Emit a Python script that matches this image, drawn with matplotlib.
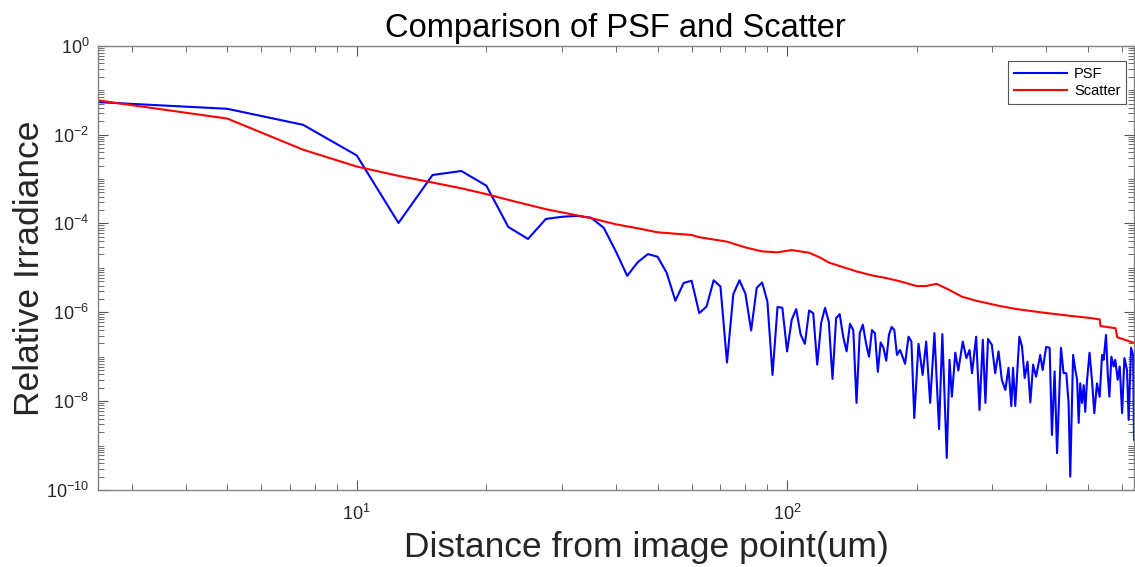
#!/usr/bin/env python3
"""Log-log comparison of PSF and scatter irradiance profiles."""
import matplotlib
matplotlib.use("Agg")
import matplotlib.pyplot as plt
from matplotlib import ticker
import numpy as np

# distance from image point (um) and log10 of relative irradiance
psf_dist = [2.5, 5, 7.5, 10, 12.5, 15, 17.5, 20, 22.5, 25, 27.5, 30, 32.5, 35, 37.5, 40,
            42.5, 45, 47.5, 50, 52.5, 55, 57.5, 60, 62.5, 65, 67.5, 70, 72.5, 75, 77.5, 80,
            82.5, 85, 87.5, 90, 92.5, 95, 97.5, 100, 102.5, 105, 107.5, 110, 112.5, 115,
            117.5, 120, 122.5, 125, 127.5, 130, 132.5, 135, 137.5, 140, 142.5, 145, 147.5,
            150, 152.5, 155, 157.5, 160, 162.5, 165, 167.5, 170, 172.5, 175, 177.5, 180,
            183, 186, 188, 191.5, 194.5, 197.5, 202, 206.5, 210.5, 215, 220, 225.5, 229.5,
            235, 238.5, 241.5, 246, 250, 256, 261, 265.5, 269, 275, 280, 285, 289, 293, 299,
            304.5, 310, 315.5, 321.5, 327, 332, 335, 339, 346.5, 351.5, 356.5, 362, 367.5,
            373, 379, 387.5, 392.5, 400, 407.5, 412.5, 418.5, 424, 433, 439, 445.5, 451, 455,
            462, 467.5, 472, 476, 480, 484.5, 489, 493, 497.5, 504.5, 511, 517.5, 525, 532.5,
            539.5, 544, 551, 556, 561, 567, 574, 579, 586.5, 593, 600.5, 608, 616.5, 622,
            630, 637, 640]
psf_log = [-1.27, -1.42, -1.78, -2.47, -3.99, -2.91, -2.82, -3.15, -4.08, -4.35, -3.90, -3.85,
           -3.83, -3.87, -4.10, -4.63, -5.18, -4.87, -4.69, -4.75, -5.11, -5.74, -5.34, -5.29,
           -6.02, -5.87, -5.28, -5.42, -7.13, -5.59, -5.28, -5.58, -6.41, -5.45, -5.33, -5.76,
           -7.41, -5.88, -5.90, -6.88, -6.17, -5.93, -6.50, -6.71, -5.96, -6.02, -7.18, -6.24,
           -5.90, -6.21, -7.50, -6.13, -6.04, -6.55, -6.88, -6.26, -6.40, -8.04, -6.47, -6.28,
           -6.69, -7.00, -6.40, -6.47, -7.34, -6.68, -6.80, -7.09, -6.50, -6.33, -6.40, -6.96,
           -6.85, -7.03, -7.16, -6.55, -6.66, -8.38, -6.71, -7.41, -6.66, -8.04, -6.47, -8.63,
           -6.49, -9.28, -7.07, -7.90, -6.91, -7.31, -6.66, -7.03, -6.85, -7.37, -6.55, -8.20,
           -6.62, -8.04, -6.60, -6.73, -7.37, -6.88, -7.52, -7.75, -7.25, -8.11, -7.25, -8.11,
           -6.55, -6.77, -7.48, -7.11, -8.03, -7.18, -7.45, -6.96, -7.30, -6.78, -6.80, -8.76,
           -7.33, -9.17, -6.80, -7.37, -7.37, -8.04, -9.70, -6.96, -7.30, -7.52, -8.49, -7.60,
           -8.04, -7.64, -8.24, -7.56, -6.91, -7.52, -8.27, -7.60, -7.90, -6.96, -7.07, -6.51,
           -7.37, -7.90, -7.00, -7.22, -7.07, -7.52, -7.22, -8.27, -7.03, -7.30, -8.42, -6.80,
           -6.96, -8.87]

scatter_dist = [2.5, 5, 7.5, 10, 12.5, 15, 17.5, 20, 22.5, 27.5, 35, 40, 45, 50, 60, 62.5,
                72.5, 80, 87.5, 95, 102.5, 112.5, 120, 125, 132.5, 145, 157.5, 170, 182.5,
                200, 210, 222.5, 237.5, 255, 275, 312.5, 342.5, 395, 455, 507.5, 532.5, 535,
                580, 585, 640]
scatter_log = [-1.23, -1.64, -2.34, -2.72, -2.93, -3.08, -3.21, -3.34, -3.47, -3.68, -3.88,
               -4.02, -4.11, -4.20, -4.26, -4.31, -4.41, -4.54, -4.63, -4.65, -4.60, -4.66,
               -4.78, -4.88, -4.96, -5.08, -5.17, -5.23, -5.30, -5.41, -5.41, -5.36, -5.49,
               -5.65, -5.74, -5.86, -5.93, -6.01, -6.08, -6.13, -6.16, -6.31, -6.36, -6.56,
               -6.69]

series_labels = ["PSF", "Scatter"]

plt.rcParams["font.family"] = ["Liberation Sans", "DejaVu Sans"]
plt.rcParams["mathtext.fontset"] = "custom"
plt.rcParams["mathtext.rm"] = "Liberation Sans"

W, H = 1135, 567
fig = plt.figure(figsize=(W / 100, H / 100), dpi=100)
left, right, top, bottom = 97.7, 1134.0, 45.7, 490.0
ax = fig.add_axes([left / W, 1 - bottom / H, (right - left) / W, (bottom - top) / H])

ax.plot(psf_dist, 10 ** np.array(psf_log), color="#0000ff", lw=1.5, label=series_labels[0])
ax.plot(scatter_dist, 10 ** np.array(scatter_log), color="#ff0000", lw=1.5,
        label=series_labels[1])

ax.set_xscale("log")
ax.set_yscale("log")
ax.set_xlim(2.5, 640)
ax.set_ylim(1e-10, 1e0)

ax.yaxis.set_major_locator(ticker.FixedLocator([10.0 ** e for e in range(-10, 1, 2)]))
ax.yaxis.set_minor_locator(ticker.LogLocator(base=10, subs=np.arange(1, 10), numticks=50))
ax.yaxis.set_minor_formatter(ticker.NullFormatter())
ax.xaxis.set_major_locator(ticker.FixedLocator([10, 100]))
ax.xaxis.set_minor_locator(ticker.LogLocator(base=10, subs=np.arange(1, 10), numticks=50))
ax.xaxis.set_minor_formatter(ticker.NullFormatter())

tick_col = "#262626"
ax.tick_params(which="both", direction="in", top=True, right=True, colors="#555555",
               labelcolor=tick_col, labelsize=13)
ax.tick_params(which="major", length=7, width=0.8, pad=6)
ax.tick_params(axis="x", which="major", pad=10)
ax.tick_params(which="minor", length=4, width=0.6)
for sp in ax.spines.values():
    sp.set_color("#808080")
    sp.set_linewidth(1.0)

ax.set_title("Comparison of PSF and Scatter", fontsize=23.5, color="black", pad=6)
ax.set_xlabel("Distance from image point(um)", fontsize=25.5, color=tick_col, va="top")
ax.xaxis.set_label_coords((646 - left) / (right - left), (bottom - 531) / (bottom - top))
ax.set_ylabel("Relative Irradiance", fontsize=25.5, color=tick_col, labelpad=0)

leg = ax.legend(loc="upper right", bbox_to_anchor=(0.9925, 0.966), borderaxespad=0,
                fontsize=10.5, handlelength=3.6, fancybox=False, framealpha=1,
                edgecolor="#555555", borderpad=0.4, labelspacing=0.25, handletextpad=0.5)
leg.get_frame().set_linewidth(0.8)

fig.savefig("out.png", dpi=100)
